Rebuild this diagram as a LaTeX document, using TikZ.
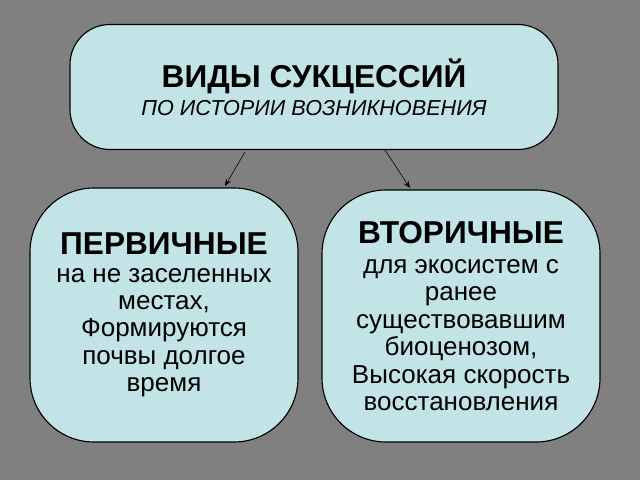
\documentclass[tikz,border=0pt]{standalone}
\usepackage{fontspec}
\setmainfont{Liberation Sans}
\usetikzlibrary{arrows.meta}
\definecolor{bg}{HTML}{808080}
\definecolor{boxfill}{HTML}{C2E4E6}
\tikzset{
  box/.style={draw,thick,fill=boxfill,align=center},
  body/.style={font=\fontsize{18.5}{19.5}\selectfont},
  link/.style={-{Stealth[length=5pt,width=4pt]},thin}
}
\begin{document}
\begin{tikzpicture}
  \fill[bg] (0,0) rectangle (16,12);
  \node[box,rounded corners=1cm,minimum width=12.2cm,minimum height=3.125cm,
        font=\fontsize{22.5}{24}\selectfont] (top) at (7.85,9.825)
    {\textbf{ВИДЫ СУКЦЕССИЙ}\\[-4pt]
     {\fontsize{15.4}{17}\selectfont\itshape ПО ИСТОРИИ ВОЗНИКНОВЕНИЯ}};
  \node[box,body,rounded corners=1.6cm,minimum width=6.7cm,minimum height=6.35cm] (prim) at (4.1,4.125)
    {{\fontsize{22.5}{24}\selectfont\bfseries ПЕРВИЧНЫЕ}\\
     на не заселенных\\ местах,\\ Формируются\\ почвы долгое\\ время};
  \node[box,body,rounded corners=1.6cm,minimum width=6.95cm,minimum height=6.3cm] (sec) at (11.525,4.1)
    {{\fontsize{22.5}{24}\selectfont\bfseries ВТОРИЧНЫЕ}\\[2pt]
     для экосистем с\\ ранее\\ существовавшим\\ биоценозом,\\ Высокая скорость\\ восстановления};
  \coordinate (a1) at (6.125,8.2);
  \coordinate (b1) at (5.625,7.35);
  \coordinate (a2) at (9.625,8.25);
  \coordinate (b2) at (10.25,7.3);
  \draw[link] (a1) -- (b1);
  \draw[link] (a2) -- (b2);
\end{tikzpicture}
\end{document}
